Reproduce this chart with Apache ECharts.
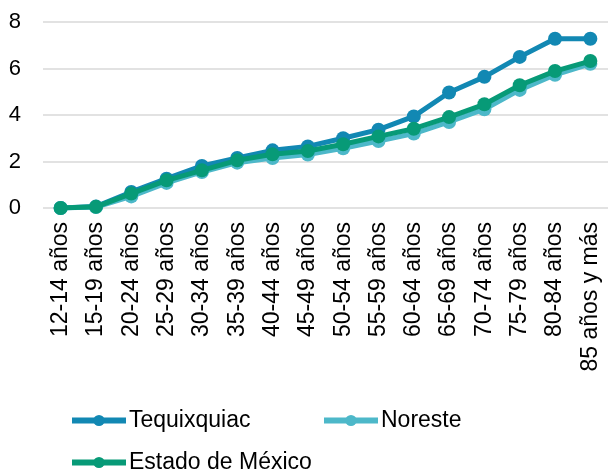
<!DOCTYPE html>
<html><head><meta charset="utf-8">
<script src="https://cdn.jsdelivr.net/npm/echarts@6/dist/echarts.min.js"></script>
<style>html,body{margin:0;padding:0;background:#fff}#c{width:608px;height:472px}</style>
</head><body><div id="c"></div>
<script>
const categories = ['12-14 años','15-19 años','20-24 años','25-29 años','30-34 años','35-39 años','40-44 años','45-49 años','50-54 años','55-59 años','60-64 años','65-69 años','70-74 años','75-79 años','80-84 años','85 años y más'];
const tequixquiac = [0, 0.06, 0.69, 1.26, 1.81, 2.15, 2.48, 2.65, 3.0, 3.37, 3.94, 4.97, 5.64, 6.5, 7.28, 7.28];
const noreste = [0, 0.04, 0.5, 1.08, 1.55, 1.95, 2.15, 2.3, 2.57, 2.88, 3.2, 3.7, 4.25, 5.08, 5.73, 6.2];
const estado = [0, 0.05, 0.62, 1.19, 1.62, 2.05, 2.31, 2.45, 2.74, 3.08, 3.41, 3.91, 4.46, 5.28, 5.89, 6.32];
const yTicks = {min: 0, max: 8, interval: 2};

const colors = {t: '#1288B3', n: '#4DB8C9', e: '#079A77'};
const font = 'Liberation Sans, Arial, sans-serif';
const chart = echarts.init(document.getElementById('c'));
function s(name, data, color, z) {
  return {name, type: 'line', data, z, symbol: 'circle', symbolSize: 14,
    lineStyle: {width: 5, color}, itemStyle: {color}, animation: false};
}
function lg(name, left, top) {
  return {data: [name], left, top, padding: 0, itemWidth: 54, itemHeight: 14, itemGap: 0,
    lineStyle: {width: 6},
    textStyle: {fontSize: 23, color: '#000', fontFamily: font, padding: [0,0,0,-2]}};
}
chart.setOption({
  animation: false,
  textStyle: {fontFamily: font},
  grid: {left: 43, top: 22, width: 568, height: 186, containLabel: false},
  xAxis: {type: 'category', data: categories, boundaryGap: true,
    axisLine: {show: false}, axisTick: {show: false},
    axisLabel: {rotate: 90, interval: 0, color: '#000', fontSize: 23, fontFamily: font, margin: 14}},
  yAxis: {type: 'value', min: yTicks.min, max: yTicks.max, interval: yTicks.interval,
    axisLine: {show: false}, axisTick: {show: false},
    splitLine: {lineStyle: {color: '#D9D9D9', width: 1.5}},
    axisLabel: {color: '#000', fontSize: 22, fontFamily: font, margin: 22}},
  legend: [
    lg('Tequixquiac', 69, 409),
    lg('Noreste', 321, 409),
    lg('Estado de México', 69, 451)
  ],
  series: [
    s('Tequixquiac', tequixquiac, colors.t, 2),
    s('Noreste', noreste, colors.n, 3),
    s('Estado de México', estado, colors.e, 4)
  ]
});
</script></body></html>
